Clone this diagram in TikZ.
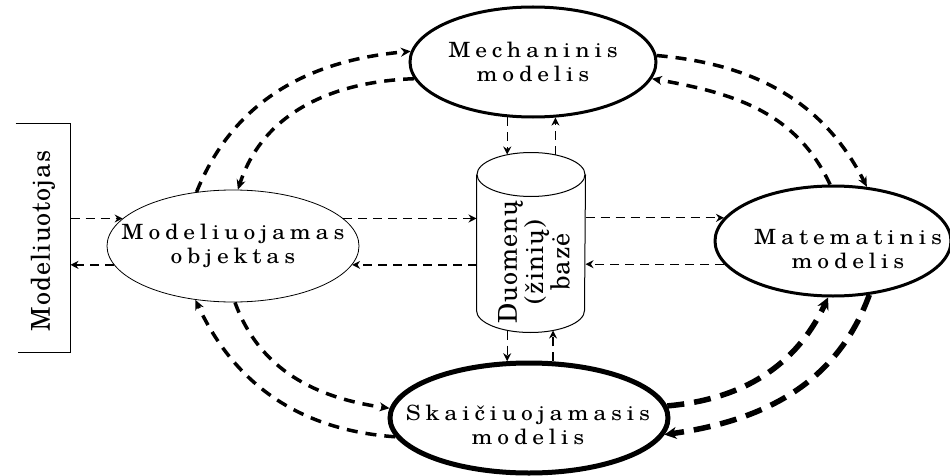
\documentclass[tikz,border=0pt]{standalone}
\usepackage{fontspec}
\newfontfamily\schspaced{texgyreschola-regular}[Extension=.otf,FakeStretch=1.12,LetterSpace=23]
\newfontfamily\schtight{texgyreschola-regular}[Extension=.otf,LetterSpace=4]
\usetikzlibrary{shapes.geometric,arrows.meta}

\begin{document}
\begin{tikzpicture}[x=1pt,y=1pt,line width=1pt,draw=black]
	\tikzstyle{TH}=[ellipse,draw,line width=0.8pt,inner sep=0pt] % TH = thin ellipse
	\tikzstyle{TK}=[ellipse,draw,line width=3pt,inner sep=0pt]   % TK = thick ellipse
	\tikzstyle{BK}=[ellipse,draw,line width=5pt,inner sep=0pt]   % BK = bold ellipse
	\tikzstyle{TX}=[font=\schspaced\fontsize{21}{24}\selectfont,align=center,inner sep=0pt] % TX = ellipse text
	\tikzstyle{VT}=[font=\schtight\fontsize{26}{25}\selectfont,align=center,inner sep=0pt,rotate=90] % VT = upright text
	\tikzstyle{DL}=[line width=1.3pt,dash pattern=on 9pt off 6pt,-{Stealth[length=8pt,width=8pt]}]    % DL = data link
	\tikzstyle{ML}=[line width=3.5pt,dash pattern=on 11pt off 8pt,-{Stealth[length=10pt,width=9pt]}]  % ML = model link
	\tikzstyle{BL}=[line width=5.5pt,dash pattern=on 17pt off 10pt,-{Stealth[length=12pt,width=12pt]}] % BL = bold link

	\useasboundingbox (0,0) rectangle (950,475);

	% nodes
	\node(user)[minimum width=54pt,minimum height=228pt,label={[yshift=-3pt,VT]center:Modeliuotojas}] at (43,237) {};
	\node(obj)[TH,minimum width=252pt,minimum height=112pt,label={[TX]center:Modeliuojamas\\objektas}] at (233,229) {};
	\node(mech)[TK,minimum width=246pt,minimum height=110pt,label={[TX]center:Mechaninis\\modelis}] at (533,413) {};
	\node(mat)[TK,minimum width=236pt,minimum height=110pt,label={[xshift=15pt,yshift=-8pt,TX]center:Matematinis\\modelis}] at (833,234) {};
	\node(skai)[BK,minimum width=278pt,minimum height=110pt,label={[xshift=-1pt,yshift=-7pt,TX]center:Skaičiuojamasis\\modelis}] at (529,57) {};
	\node(db)[minimum width=108pt,minimum height=180pt,label={[xshift=3pt,yshift=-19pt,VT]center:Duomenų\\(žinių)\\bazė}] at (531,232) {};

	% user bracket and data base cylinder
	\draw (user.north west) -- (user.north east) -- (user.south east) -- ([xshift=2pt]user.south west);
	\draw ([yshift=-22pt]db.north) ellipse [x radius=54pt,y radius=22pt];
	\draw ([yshift=-22pt]db.north west) -- ([yshift=23pt]db.south west)
		arc [start angle=180,end angle=360,x radius=54pt,y radius=22pt] -- ([yshift=-22pt]db.north east);

	% straight links
	\draw[DL] (user.east |- obj.166) -- (obj.166);
	\draw[DL] (obj.189) -- (user.east |- obj.189);
	\draw[DL] (obj.14) -- (db.west |- obj.14);
	\draw[DL] (db.west |- obj.-9) -- (obj.-9);
	\draw[DL] (db.east |- mat.168) -- (mat.168);
	\draw[DL] (mat.192) -- (db.east |- mat.192);
	\draw[DL] (mech.245) -- ([yshift=-2pt]mech.245 |- db.north);
	\draw[DL] ([yshift=-2pt]mech.292 |- db.north) -- (mech.292);
	\draw[DL] ([yshift=3pt]skai.111 |- db.south) -- (skai.111);
	\draw[DL] (skai.67) -- ([yshift=3pt]skai.67 |- db.south);

	% curved links
	\draw[ML] (obj.124) to[out=68,in=185] (mech.175);
	\draw[ML] (mech.188) to[out=182,in=72] (obj.85);
	\draw[ML] (mech.3) to[out=-5,in=117] (mat.58);
	\draw[ML] (mat.93) to[out=115,in=-10] (mech.-8);
	\draw[BL] (skai.5) to[out=5,in=245] (mat.265);
	\draw[BL] (mat.-56) to[out=250,in=8] (skai.-7);
	\draw[ML] (skai.188) to[out=176,in=295] (obj.235);
	\draw[ML] (obj.272) to[out=290,in=172] (skai.176);
\end{tikzpicture}
\end{document}
